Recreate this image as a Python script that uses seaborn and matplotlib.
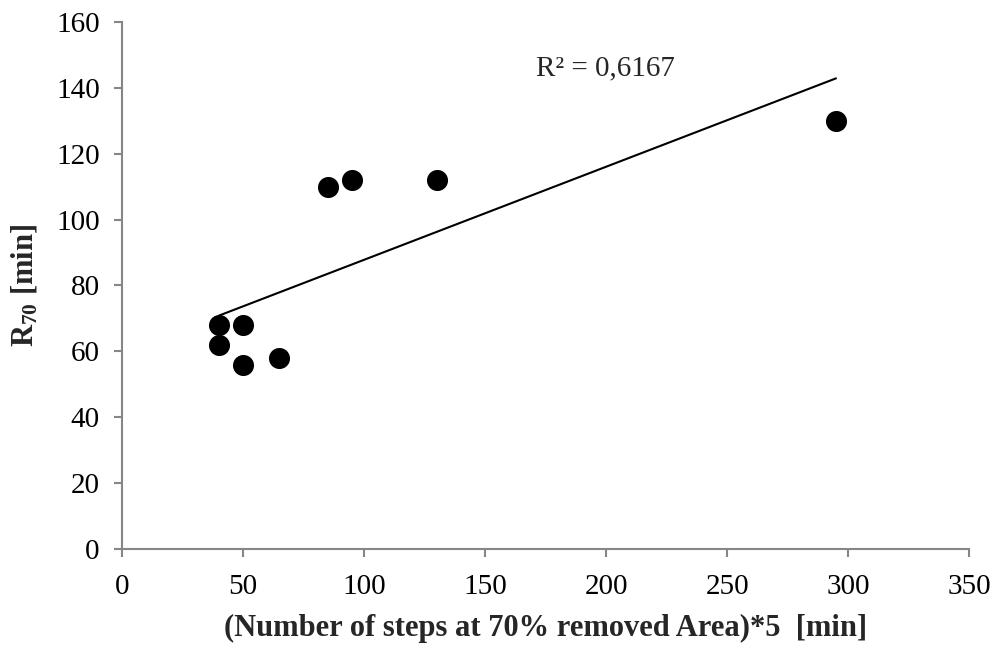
import numpy as np
import pandas as pd
import matplotlib
matplotlib.use('Agg')
import matplotlib.pyplot as plt
import seaborn as sns

# values
steps_min = [40, 40, 50, 50, 65, 85, 95, 130, 295]
r70_min = [68, 62, 68, 56, 58, 110, 112, 112, 130]
x_ticks = [0, 50, 100, 150, 200, 250, 300, 350]
y_ticks = [0, 20, 40, 60, 80, 100, 120, 140, 160]
r2_label = "R² = 0,6167"

df = pd.DataFrame({"steps": steps_min, "r70": r70_min})

sns.set_theme(style="white")
plt.rcParams['font.family'] = ['Liberation Serif', 'DejaVu Serif']
plt.rcParams['mathtext.fontset'] = 'custom'
plt.rcParams['mathtext.rm'] = 'Liberation Serif'
plt.rcParams['mathtext.bf'] = 'Liberation Serif:bold'

fig = plt.figure(figsize=(9.97, 6.48), dpi=100)
ax = fig.add_axes([0.1224, 0.1528, 0.8496, 0.8133])

# linear trend line over the data range
sns.regplot(data=df, x="steps", y="r70", scatter=False, ci=None, truncate=True,
            color="black", line_kws={"linewidth": 1.5}, ax=ax)
sns.scatterplot(data=df, x="steps", y="r70", s=230, color="black",
                edgecolor="black", linewidth=0, ax=ax, zorder=3)

ax.set_xlim(0, 350)
ax.set_ylim(0, 160)
ax.set_xticks(x_ticks)
ax.set_yticks(y_ticks)
ax.tick_params(axis="both", direction="out", length=6, width=1.5, color="#868686",
               labelsize=21, labelcolor="black", left=True, bottom=True)
ax.tick_params(axis="x", pad=12)
ax.tick_params(axis="y", pad=10)

for side in ["top", "right"]:
    ax.spines[side].set_visible(False)
for side in ["left", "bottom"]:
    ax.spines[side].set_color("#868686")
    ax.spines[side].set_linewidth(1.5)

ax.set_xlabel("(Number of steps at 70% removed Area)*5  [min]", fontsize=22,
              fontweight="bold", labelpad=10)
ax.set_ylabel(r"$\mathbf{R_{70}}$ [min]", fontsize=22, fontweight="bold", labelpad=12)

ax.text(171, 146, r2_label, fontsize=21, va="center", ha="left")

fig.savefig("out.png", dpi=100)
